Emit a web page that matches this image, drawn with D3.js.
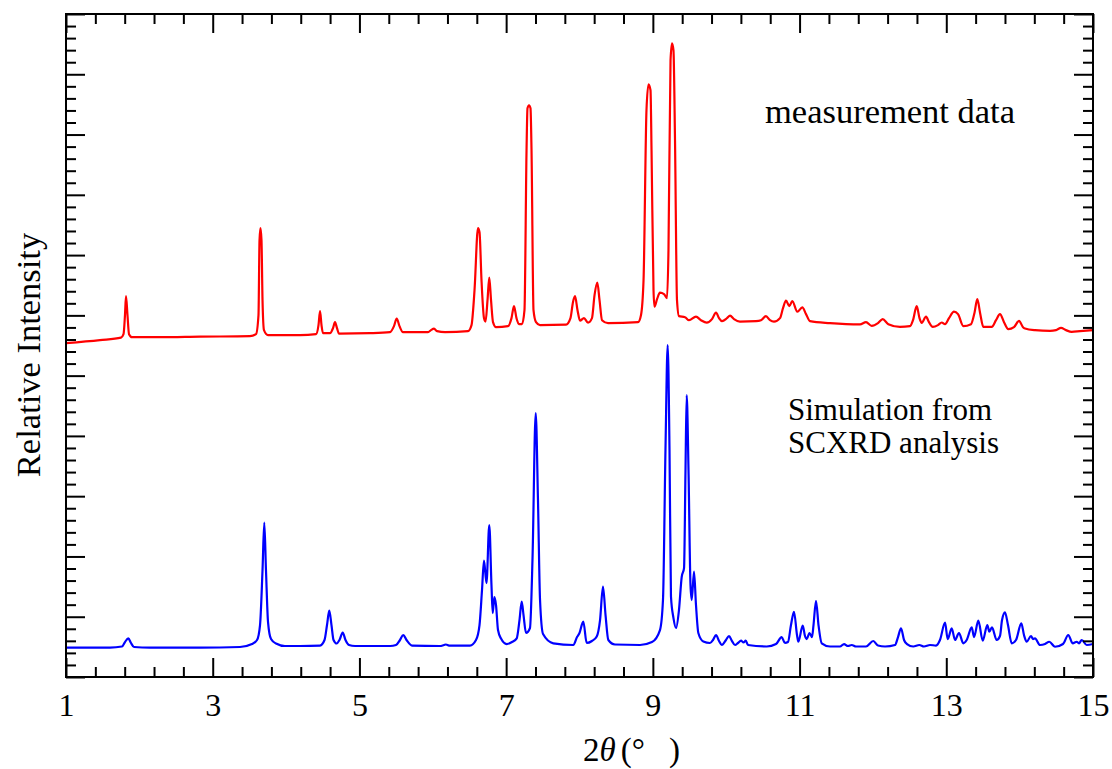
<!DOCTYPE html>
<html>
<head>
<meta charset="utf-8">
<script src="https://cdn.jsdelivr.net/npm/d3@7"></script>
<style>
  body { margin: 0; background: #fff; }
  svg text { font-family: "Liberation Serif", "Times New Roman", serif; fill: #000; }
</style>
</head>
<body>
<div class="xrd"></div>
<script>
// [2theta, relative intensity]
const measured = [
  [1.000,5.539],[1.463,5.589],[1.750,5.630],[1.784,5.688],[1.804,6.003],[1.818,6.318],[1.838,6.003],[1.859,5.688],
  [1.900,5.638],[2.281,5.638],[2.827,5.647],[3.508,5.655],[3.590,5.688],[3.624,6.003],[3.638,7.247],[3.651,7.446],
  [3.665,7.247],[3.679,6.252],[3.699,5.755],[3.754,5.672],[4.190,5.672],[4.408,5.688],[4.442,5.838],[4.463,6.070],
  [4.483,5.838],[4.503,5.705],[4.599,5.705],[4.640,5.788],[4.667,5.887],[4.694,5.788],[4.722,5.697],[5.144,5.705],
  [5.417,5.721],[5.471,5.821],[5.508,5.945],[5.546,5.821],[5.594,5.721],[5.935,5.721],[5.976,5.755],[6.017,5.779],
  [6.058,5.738],[6.167,5.721],[6.480,5.738],[6.528,5.838],[6.569,6.418],[6.616,7.446],[6.637,7.380],[6.664,6.584],
  [6.698,5.954],[6.719,5.896],[6.746,6.252],[6.770,6.625],[6.794,6.252],[6.821,5.887],[6.862,5.804],[7.025,5.821],
  [7.073,5.954],[7.107,6.153],[7.141,5.954],[7.175,5.854],[7.216,5.854],[7.250,6.086],[7.278,8.740],[7.291,9.436],
  [7.312,9.486],[7.332,9.436],[7.346,8.740],[7.373,6.086],[7.407,5.887],[7.462,5.838],[7.816,5.846],[7.877,5.954],
  [7.911,6.219],[7.939,6.318],[7.973,6.086],[8.007,5.912],[8.061,5.954],[8.116,5.879],[8.170,5.954],[8.205,6.335],
  [8.243,6.542],[8.273,6.252],[8.307,5.920],[8.389,5.871],[8.798,5.887],[8.838,6.003],[8.873,6.584],[8.913,9.403],
  [8.941,9.834],[8.968,9.735],[8.982,8.740],[9.009,6.418],[9.022,6.144],[9.057,6.269],[9.097,6.376],[9.152,6.352],
  [9.193,6.285],[9.213,7.081],[9.241,10.232],[9.261,10.514],[9.281,10.398],[9.302,8.905],[9.329,6.252],[9.356,5.987],
  [9.438,5.970],[9.493,5.920],[9.588,5.978],[9.656,5.920],[9.734,5.879],[9.806,5.937],[9.861,6.045],[9.902,5.954],
  [9.943,5.904],[10.011,5.954],[10.052,5.995],[10.106,5.937],[10.188,5.896],[10.406,5.904],[10.474,5.920],[10.542,5.987],
  [10.597,5.920],[10.651,5.896],[10.733,5.954],[10.774,6.119],[10.815,6.244],[10.860,6.153],[10.901,6.235],[10.969,6.061],
  [11.037,6.131],[11.088,6.020],[11.142,5.904],[11.415,5.871],[11.824,5.849],[11.906,5.887],[11.983,5.826],[12.069,5.871],
  [12.133,5.937],[12.210,5.854],[12.369,5.809],[12.505,5.821],[12.546,5.920],[12.597,6.153],[12.635,5.954],[12.665,5.876],
  [12.724,5.978],[12.764,5.887],[12.815,5.809],[12.887,5.838],[12.938,5.882],[12.983,5.854],[13.037,5.954],[13.105,6.061],
  [13.160,6.020],[13.232,5.821],[13.337,5.854],[13.385,6.045],[13.423,6.269],[13.460,6.045],[13.505,5.809],[13.619,5.809],
  [13.678,5.920],[13.732,6.020],[13.787,5.887],[13.845,5.771],[13.923,5.804],[13.991,5.909],[14.046,5.804],[14.073,5.783],
  [14.209,5.755],[14.414,5.743],[14.496,5.755],[14.564,5.793],[14.632,5.755],[14.710,5.726],[14.823,5.738],[15.000,5.755]
];

const simulated = [
  [1.000,0.489],[1.600,0.489],[1.763,0.506],[1.804,0.580],[1.849,0.642],[1.886,0.564],[1.927,0.498],[2.145,0.489],
  [2.827,0.489],[3.372,0.498],[3.536,0.547],[3.604,0.614],[3.645,0.862],[3.679,1.774],[3.703,2.562],[3.726,1.774],
  [3.754,0.912],[3.795,0.630],[3.863,0.556],[3.985,0.514],[4.190,0.514],[4.463,0.522],[4.524,0.614],[4.558,0.862],
  [4.589,1.103],[4.619,0.862],[4.647,0.614],[4.690,0.556],[4.728,0.614],[4.772,0.738],[4.810,0.614],[4.858,0.531],
  [4.940,0.514],[5.417,0.514],[5.499,0.531],[5.553,0.614],[5.598,0.697],[5.642,0.614],[5.717,0.522],[6.098,0.514],
  [6.153,0.531],[6.180,0.539],[6.221,0.522],[6.507,0.522],[6.589,0.614],[6.637,0.862],[6.671,1.443],[6.698,1.932],
  [6.732,1.559],[6.770,2.521],[6.800,1.526],[6.817,1.061],[6.839,1.327],[6.862,1.194],[6.889,0.779],[6.930,0.638],
  [7.008,0.547],[7.080,0.580],[7.144,0.642],[7.182,0.945],[7.212,1.252],[7.237,1.028],[7.271,0.730],[7.325,0.813],
  [7.359,1.940],[7.403,4.378],[7.434,2.935],[7.462,1.277],[7.503,0.713],[7.643,0.559],[7.916,0.531],[7.966,0.663],
  [7.997,0.721],[8.052,0.920],[8.098,0.564],[8.170,0.597],[8.235,0.672],[8.280,0.945],[8.320,1.501],[8.355,1.028],
  [8.393,0.614],[8.484,0.539],[8.825,0.531],[8.988,0.580],[9.097,0.779],[9.138,1.277],[9.172,3.765],[9.202,5.506],
  [9.227,3.765],[9.247,1.335],[9.281,0.978],[9.316,0.813],[9.356,1.111],[9.393,1.658],[9.425,1.808],[9.445,3.433],
  [9.461,4.677],[9.486,3.433],[9.513,1.526],[9.530,1.277],[9.561,1.750],[9.588,1.194],[9.620,0.730],[9.688,0.589],
  [9.779,0.564],[9.820,0.614],[9.861,0.697],[9.902,0.597],[9.939,0.531],[9.997,0.614],[10.038,0.680],[10.079,0.597],
  [10.120,0.531],[10.161,0.564],[10.202,0.602],[10.236,0.572],[10.266,0.602],[10.297,0.531],[10.552,0.506],[10.679,0.547],
  [10.756,0.663],[10.801,0.564],[10.842,0.580],[10.883,0.862],[10.924,1.083],[10.965,0.697],[10.983,0.585],[11.043,0.854],
  [11.074,0.680],[11.097,0.630],[11.135,0.730],[11.170,0.663],[11.190,0.862],[11.224,1.265],[11.258,0.862],[11.302,0.559],
  [11.415,0.506],[11.551,0.506],[11.606,0.547],[11.660,0.514],[11.711,0.531],[11.769,0.506],[11.906,0.506],[12.005,0.597],
  [12.069,0.522],[12.165,0.506],[12.301,0.531],[12.342,0.663],[12.383,0.808],[12.424,0.614],[12.465,0.547],[12.550,0.506],
  [12.632,0.531],[12.696,0.506],[12.778,0.531],[12.860,0.522],[12.914,0.614],[12.983,0.901],[13.019,0.630],[13.074,0.808],
  [13.119,0.614],[13.173,0.730],[13.232,0.559],[13.278,0.614],[13.347,0.824],[13.378,0.663],[13.437,0.934],[13.497,0.602],
  [13.559,0.862],[13.586,0.753],[13.623,0.824],[13.687,0.614],[13.732,0.680],[13.760,0.945],[13.800,1.073],[13.841,0.862],
  [13.892,0.559],[13.950,0.614],[14.023,0.891],[14.059,0.697],[14.096,0.585],[14.155,0.680],[14.182,0.630],[14.209,0.642],
  [14.278,0.531],[14.346,0.547],[14.404,0.585],[14.482,0.502],[14.591,0.547],[14.663,0.697],[14.723,0.559],[14.778,0.585],
  [14.809,0.559],[14.846,0.614],[14.914,0.531],[15.000,0.547]
];

const xMajor = [1, 3, 5, 7, 9, 11, 13, 15];
const yRange = [0, 11];

const svg = d3.select(".xrd").append("svg")
  .attr("width", 1112)
  .attr("height", 769);

const margin = {top: 14, right: 19, bottom: 92, left: 66};
const width = 1112 - margin.left - margin.right;
const height = 769 - margin.top - margin.bottom;

const g = svg.append("g")
  .attr("transform", `translate(${margin.left}, ${margin.top})`);

const x = d3.scaleLinear().domain([1, 15]).range([0, width]);
const y = d3.scaleLinear().domain(yRange).range([height, 0]);

const xMinor = d3.range(1, 15.001, 0.4).filter(v => Math.abs((v - 1) / 2 - Math.round((v - 1) / 2)) > 0.01);
const yMajor = d3.range(yRange[0], yRange[1] + 0.001, 1);
const yMinor = d3.range(yRange[0], yRange[1] + 0.001, 0.2).filter(v => Math.abs(v - Math.round(v)) > 0.01);

const line = d3.line()
  .x(d => x(d[0]))
  .y(d => y(d[1]))
  .curve(d3.curveMonotoneX);

g.append("path").datum(measured)
  .attr("fill", "none").attr("stroke", "#ff0000").attr("stroke-width", 2.2)
  .attr("stroke-linejoin", "round")
  .attr("d", line);

g.append("path").datum(simulated)
  .attr("fill", "none").attr("stroke", "#0000ff").attr("stroke-width", 2.2)
  .attr("stroke-linejoin", "round")
  .attr("d", line);

// ticks all point inward
function ticks(axis, tr, vals, size, labels) {
  const a = axis.tickValues(vals).tickSize(-size).tickSizeOuter(0);
  if (!labels) a.tickFormat("");
  const s = g.append("g").attr("transform", tr).call(a);
  s.select(".domain").remove();
  s.selectAll("line").attr("stroke", "#000").attr("stroke-width", 2);
  return s;
}

const bottom = ticks(d3.axisBottom(x).tickPadding(16), `translate(0,${height})`, xMajor, 19, true);
bottom.selectAll("text").attr("font-size", 32).attr("font-family", "Liberation Serif");
ticks(d3.axisBottom(x), `translate(0,${height})`, xMinor, 10, false);
ticks(d3.axisTop(x), "translate(0,0)", xMajor, 19, false);
ticks(d3.axisTop(x), "translate(0,0)", xMinor, 10, false);
ticks(d3.axisLeft(y), "translate(0,0)", yMajor, 19, false);
ticks(d3.axisLeft(y), "translate(0,0)", yMinor, 10, false);
ticks(d3.axisRight(y), `translate(${width},0)`, yMajor, 19, false);
ticks(d3.axisRight(y), `translate(${width},0)`, yMinor, 10, false);

g.append("rect")
  .attr("width", width).attr("height", height)
  .attr("fill", "none").attr("stroke", "#000").attr("stroke-width", 2);

// labels
svg.append("text")
  .attr("transform", "translate(40,355) rotate(-90)")
  .attr("text-anchor", "middle")
  .attr("font-size", 34.5)
  .text("Relative Intensity");

const xl = svg.append("text")
  .attr("x", 583).attr("y", 761)
  .attr("font-size", 33);
xl.append("tspan").text("2");
xl.append("tspan").attr("font-style", "italic").text("θ");
xl.append("tspan").attr("dx", 5).text("(°");
xl.append("tspan").attr("dx", 24).text(")");

svg.append("text")
  .attr("x", 765).attr("y", 123)
  .attr("font-size", 34.5)
  .text("measurement data");

svg.append("text")
  .attr("x", 788).attr("y", 420)
  .attr("font-size", 31)
  .text("Simulation from");

svg.append("text")
  .attr("x", 788).attr("y", 453)
  .attr("font-size", 31)
  .text("SCXRD analysis");
</script>
</body>
</html>
